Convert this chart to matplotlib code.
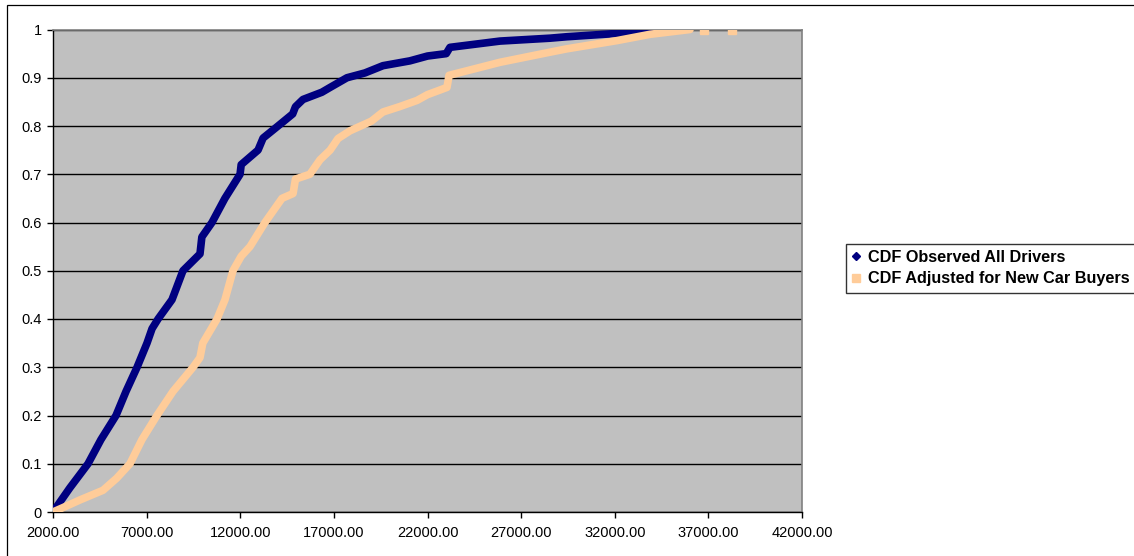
import matplotlib
matplotlib.use("Agg")
import matplotlib.pyplot as plt
from matplotlib.patches import Rectangle
from matplotlib.ticker import FixedLocator, FuncFormatter

plt.rcParams['font.family'] = ['Liberation Sans', 'DejaVu Sans']

# cumulative distribution of annual mileage
obs_x = [2000, 2900, 3870, 4560, 5365, 5900, 6490, 7020, 7290, 7610, 8355, 8940,
         9850, 9950, 10490, 11180, 11990, 12050, 12950, 13220, 14015, 14800,
         14950, 15350, 16360, 16800, 17700, 18660, 19620, 21060, 22000, 23000,
         23200, 25870, 28540, 29450, 32970, 35480, 36760, 38260]
obs_y = [0.0, 0.05, 0.10, 0.15, 0.20, 0.25, 0.30, 0.35, 0.38, 0.40, 0.44, 0.50,
         0.535, 0.57, 0.60, 0.65, 0.70, 0.72, 0.75, 0.775, 0.80, 0.825,
         0.84, 0.855, 0.87, 0.88, 0.90, 0.91, 0.925, 0.935, 0.945, 0.95,
         0.963, 0.976, 0.982, 0.985, 0.994, 1.0, 1.0, 1.0]

adj_x = [2000, 2700, 3440, 4670, 5400, 6110, 6750, 7550, 8410, 9480, 9850, 10000,
         10760, 11185, 11610, 12050, 12520, 13320, 14230, 14820, 14950, 15720,
         16260, 16800, 17220, 17860, 19000, 19620, 20500, 21440, 22000, 23040,
         23150, 25870, 28540, 29450, 32120, 33880, 36020, 36760, 38260]
adj_y = [0.0, 0.012, 0.025, 0.045, 0.07, 0.10, 0.15, 0.20, 0.25, 0.30, 0.32, 0.35,
         0.40, 0.44, 0.50, 0.53, 0.55, 0.60, 0.65, 0.66, 0.69, 0.70,
         0.73, 0.75, 0.774, 0.79, 0.81, 0.829, 0.84, 0.853, 0.865, 0.88,
         0.905, 0.932, 0.953, 0.96, 0.977, 0.99, 1.0, 1.0, 1.0]

labels = ['CDF Observed All Drivers', 'CDF Adjusted for New Car Buyers']
x_ticks = [2000, 7000, 12000, 17000, 22000, 27000, 32000, 37000, 42000]
y_ticks = [0, 0.1, 0.2, 0.3, 0.4, 0.5, 0.6, 0.7, 0.8, 0.9, 1.0]

navy = '#000080'
peach = '#FFCC99'

fig = plt.figure(figsize=(11.34, 5.56), dpi=100)
fig.patch.set_facecolor('white')
ax = fig.add_axes([53 / 1134, 44 / 556, 749 / 1134, 482.5 / 556])
ax.set_facecolor('#C0C0C0')

# thick band of points, the last two values sit apart from the band
ax.plot(obs_x[:-2], obs_y[:-2], color=navy, lw=5.5, solid_capstyle='round',
        solid_joinstyle='round', zorder=3)
ax.plot(obs_x[-2:], obs_y[-2:], ls='none', marker='D', ms=4, color=navy, zorder=3)
ax.plot(adj_x[:-2], adj_y[:-2], color=peach, lw=5.5, solid_capstyle='round',
        solid_joinstyle='round', zorder=4)
ax.plot(adj_x[-2:], adj_y[-2:], ls='none', marker='s', ms=6, color=peach, zorder=4)

ax.set_xlim(2000, 42000)
ax.set_ylim(0, 1)
ax.xaxis.set_major_locator(FixedLocator(x_ticks))
ax.yaxis.set_major_locator(FixedLocator(y_ticks))
ax.xaxis.set_major_formatter(FuncFormatter(lambda v, p: '%.2f' % v))
ax.yaxis.set_major_formatter(FuncFormatter(lambda v, p: '%g' % v))
ax.tick_params(axis='both', direction='out', length=4, width=1, color='black',
               labelsize=10.5, pad=6)
ax.tick_params(axis='y', pad=4)

ax.grid(axis='y', color='black', lw=1)
ax.set_axisbelow(True)
for side in ['left', 'bottom']:
    ax.spines[side].set_color('black')
    ax.spines[side].set_linewidth(1)
for side in ['top', 'right']:
    ax.spines[side].set_color('#808080')
    ax.spines[side].set_linewidth(1.2)

# chart border
fig.patches.append(Rectangle((7 / 1134, -0.2), 1.2, 1.2 - 5 / 556,
                             transform=fig.transFigure, fill=False,
                             edgecolor='black', lw=0.9))

handles = [
    plt.Line2D([0], [0], ls='none', marker='D', ms=4, color=navy),
    plt.Line2D([0], [0], ls='none', marker='s', ms=5.5, color=peach),
]
leg = fig.legend(handles, labels, loc='upper left',
                 bbox_to_anchor=(846 / 1134, 1 - 244 / 556),
                 frameon=True, fancybox=False, handlelength=0.5,
                 handletextpad=0.5, borderpad=0.38, labelspacing=0.38,
                 borderaxespad=0, prop={'weight': 'bold', 'size': 11.7})
leg.get_frame().set_edgecolor('black')
leg.get_frame().set_linewidth(1)

fig.savefig('out.png', dpi=100, facecolor='white')
